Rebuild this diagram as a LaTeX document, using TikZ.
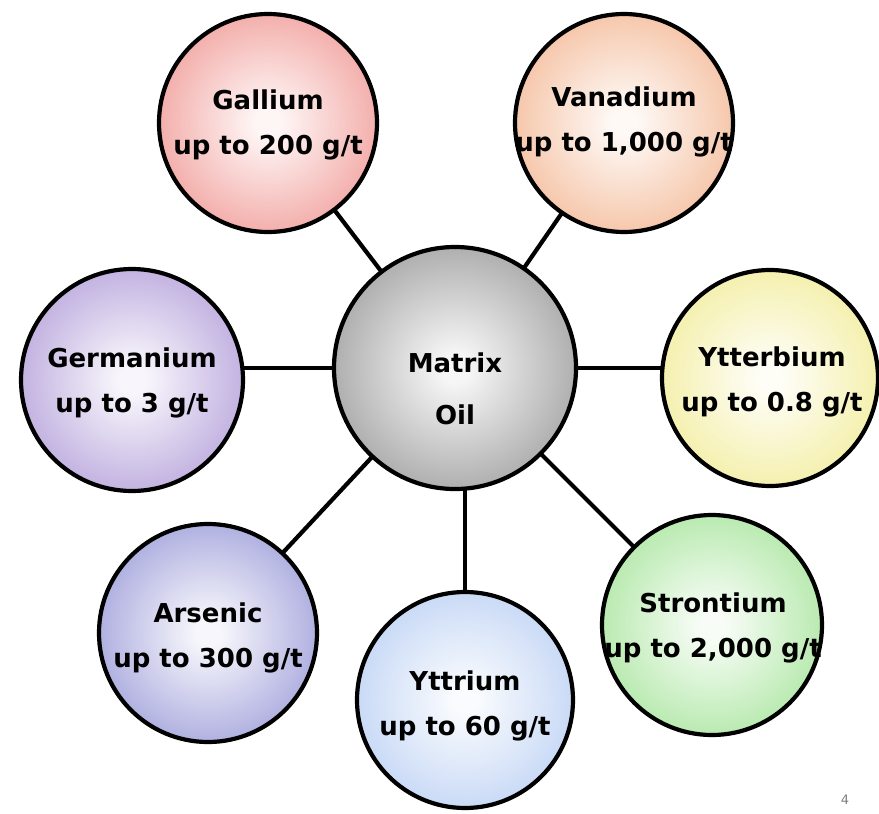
\documentclass[tikz,border=0pt]{standalone}
\usepackage{fontspec}
\setmainfont{DejaVu Sans}
\usetikzlibrary{backgrounds}
\definecolor{cgal}{RGB}{238,140,135}
\definecolor{cvan}{RGB}{242,175,135}
\definecolor{cger}{RGB}{168,145,212}
\definecolor{cmat}{RGB}{140,140,140}
\definecolor{cytb}{RGB}{240,234,140}
\definecolor{cars}{RGB}{142,142,212}
\definecolor{cytr}{RGB}{178,202,242}
\definecolor{cstr}{RGB}{155,225,142}
\colorlet{ballin}{white}
\colorlet{ballout}{gray}
\pgfdeclareradialshading[ballin,ballout]{softball}{\pgfpoint{0bp}{0bp}}{color(0bp)=(ballin); color(3bp)=(ballin); color(36bp)=(ballout); color(50bp)=(ballout)}
\tikzset{
  ball/.style={circle, draw=black, line width=4.2pt, minimum size=#1, inner sep=0pt, shading=softball},
  ballcol/.code={\colorlet{ballout}{#1}\colorlet{ballin}{white!92!#1}},
  lbl/.style={align=center, font=\fontsize{26}{45}\selectfont\bfseries, text=black, inner sep=0pt},
  link/.style={line width=4.2pt, draw=black}
}
\begin{document}
\begin{tikzpicture}[x=1pt,y=-1pt]
\useasboundingbox (0,0) rectangle (879,814);
\node[ball=242, ballcol=cmat] (mat) at (455,368) {};
\node[ball=218, ballcol=cgal] (gal) at (268,123) {};
\node[ball=218, ballcol=cvan] (van) at (624,123) {};
\node[ball=222, ballcol=cger] (ger) at (132,380) {};
\node[ball=216, ballcol=cytb] (ytb) at (770,378) {};
\node[ball=218, ballcol=cars] (ars) at (208,633) {};
\node[ball=216, ballcol=cytr] (ytr) at (465,700) {};
\node[ball=220, ballcol=cstr] (str) at (712,625) {};
\begin{scope}[on background layer]
\draw[link] (mat.center) -- (gal.center);
\draw[link] (mat.center) -- (van.center);
\draw[link] (mat.center) -- (mat.center -| ger.center);
\draw[link] (mat.center) -- (mat.center -| ytb.center);
\draw[link] (mat.center) -- (ars.center);
\draw[link] (ytr.center) -- (ytr.center |- mat.center);
\draw[link] (mat.center) -- (str.center);
\end{scope}
\node[lbl, font=\fontsize{26}{52}\selectfont\bfseries] (matt) at ([yshift=-21pt]mat.center) {Matrix\\Oil};
\node[lbl] (galt) at ([yshift=-2pt]gal.center) {Gallium\\up to 200 g/t};
\node[lbl] (vant) at ([yshift=1pt]van.center) {Vanadium\\up to 1,000 g/t};
\node[lbl] (gert) at ([yshift=-3pt]ger.center) {Germanium\\up to 3 g/t};
\node[lbl] (ytbt) at ([xshift=2pt,yshift=-4pt]ytb.center) {Ytterbium\\up to 0.8 g/t};
\node[lbl] (arst) at ([yshift=-5pt]ars.center) {Arsenic\\up to 300 g/t};
\node[lbl] (ytrt) at ([yshift=-6pt]ytr.center) {Yttrium\\up to 60 g/t};
\node[lbl] (strt) at ([xshift=1pt,yshift=-3pt]str.center) {Strontium\\up to 2,000 g/t};
\node[font=\fontsize{13}{15}\selectfont, text=gray, inner sep=0pt] (pg) at (845,800) {4};
\end{tikzpicture}
\end{document}
